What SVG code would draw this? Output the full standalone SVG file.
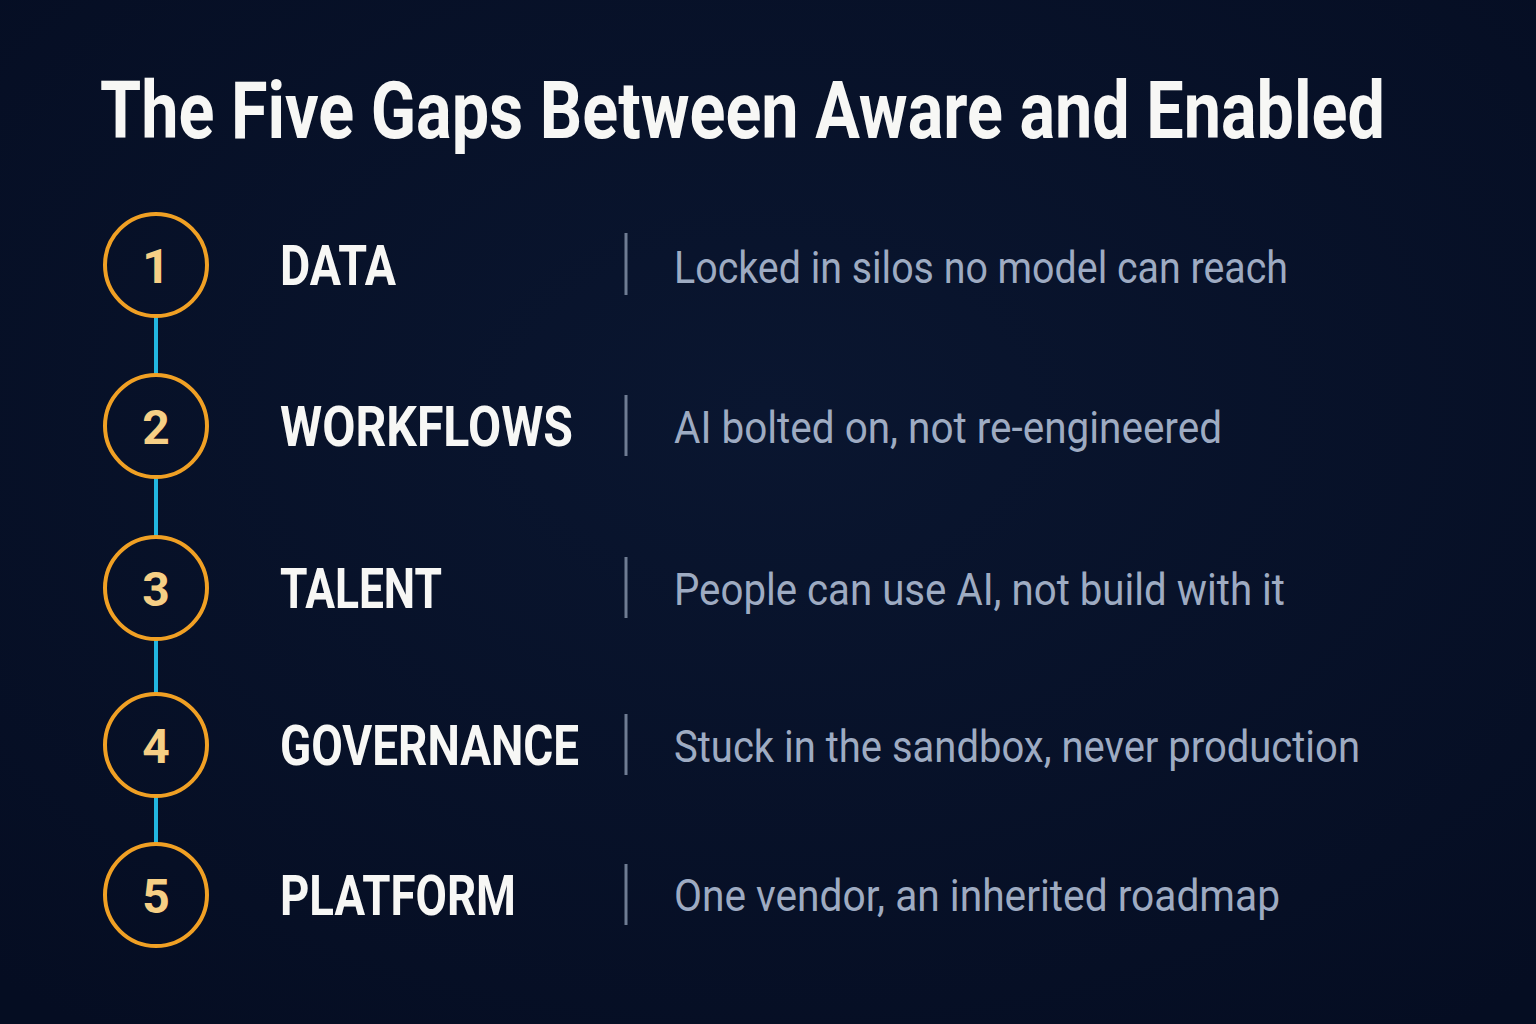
<svg xmlns="http://www.w3.org/2000/svg" width="1536" height="1024" viewBox="0 0 1536 1024">
<defs>
<radialGradient id="bg" cx="50%" cy="40%" r="75%">
<stop offset="0" stop-color="#0a1630"/>
<stop offset="1" stop-color="#050d22"/>
</radialGradient>
</defs>
<style>
.title{font-family:"Roboto","Liberation Sans",sans-serif;font-weight:700;font-size:79px;fill:#f7f7f5}
.circ{fill:none;stroke:#f0a024;stroke-width:4}
.num{font-family:"Roboto","Liberation Sans",sans-serif;font-weight:700;font-size:48px;fill:#f6cf85;text-anchor:middle}
.lbl{font-family:"Roboto","Liberation Sans",sans-serif;font-weight:700;font-size:56px;fill:#f7f7f5}
.desc{font-family:"Roboto","Liberation Sans",sans-serif;font-weight:400;font-size:44px;fill:#9eabc2}
.sep{stroke:#6f7c93;stroke-width:3}
.conn{stroke:#22b6e0;stroke-width:4}
</style>
<rect width="1536" height="1024" fill="url(#bg)"/>
<g id="title" transform="translate(100,138) scale(0.87,1)">
<text class="title" x="0" y="0" textLength="1477" lengthAdjust="spacingAndGlyphs">The Five Gaps Between Aware and Enabled</text>
</g>
<g id="connectors">
<line class="conn" x1="156" y1="317" x2="156" y2="374"/>
<line class="conn" x1="156" y1="478" x2="156" y2="536"/>
<line class="conn" x1="156" y1="640" x2="156" y2="693"/>
<line class="conn" x1="156" y1="797" x2="156" y2="843"/>
</g>
<g id="gap1">
<circle class="circ" cx="156" cy="265" r="51"/>
<text class="num" x="156" y="283">1</text>
<text class="lbl" x="280" y="285" textLength="116" lengthAdjust="spacingAndGlyphs">DATA</text>
<line class="sep" x1="626" y1="233" x2="626" y2="295"/>
<text class="desc" x="674" y="283" textLength="614" lengthAdjust="spacingAndGlyphs">Locked in silos no model can reach</text>
</g>
<g id="gap2">
<circle class="circ" cx="156" cy="426" r="51"/>
<text class="num" x="156" y="444">2</text>
<text class="lbl" x="280" y="446" textLength="293" lengthAdjust="spacingAndGlyphs">WORKFLOWS</text>
<line class="sep" x1="626" y1="395" x2="626" y2="456"/>
<text class="desc" x="674" y="443" textLength="548" lengthAdjust="spacingAndGlyphs">AI bolted on, not re-engineered</text>
</g>
<g id="gap3">
<circle class="circ" cx="156" cy="588" r="51"/>
<text class="num" x="156" y="606">3</text>
<text class="lbl" x="280" y="608" textLength="162" lengthAdjust="spacingAndGlyphs">TALENT</text>
<line class="sep" x1="626" y1="557" x2="626" y2="618"/>
<text class="desc" x="674" y="605" textLength="611" lengthAdjust="spacingAndGlyphs">People can use AI, not build with it</text>
</g>
<g id="gap4">
<circle class="circ" cx="156" cy="745" r="51"/>
<text class="num" x="156" y="763">4</text>
<text class="lbl" x="280" y="765" textLength="299" lengthAdjust="spacingAndGlyphs">GOVERNANCE</text>
<line class="sep" x1="626" y1="714" x2="626" y2="775"/>
<text class="desc" x="674" y="762" textLength="686" lengthAdjust="spacingAndGlyphs">Stuck in the sandbox, never production</text>
</g>
<g id="gap5">
<circle class="circ" cx="156" cy="895" r="51"/>
<text class="num" x="156" y="913">5</text>
<text class="lbl" x="280" y="915" textLength="236" lengthAdjust="spacingAndGlyphs">PLATFORM</text>
<line class="sep" x1="626" y1="864" x2="626" y2="925"/>
<text class="desc" x="674" y="911" textLength="606" lengthAdjust="spacingAndGlyphs">One vendor, an inherited roadmap</text>
</g>
</svg>
